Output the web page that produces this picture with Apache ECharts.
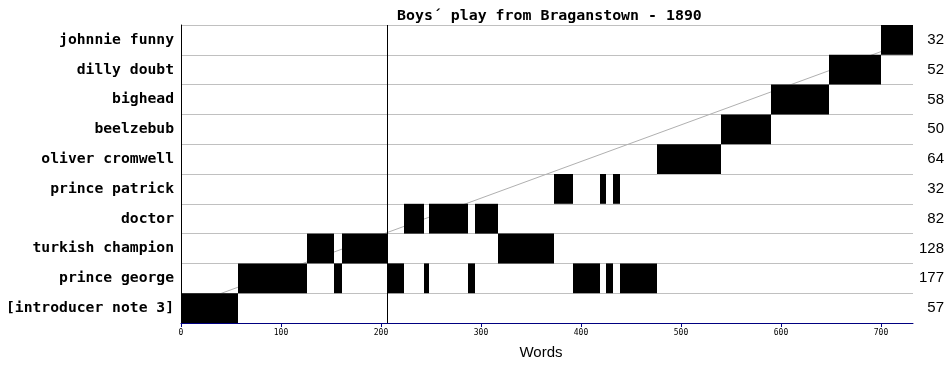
<!DOCTYPE html>
<html>
<head>
<meta charset="utf-8">
<script src="https://cdn.jsdelivr.net/npm/echarts@6/dist/echarts.min.js"></script>
<style>html,body{margin:0;padding:0;background:#fff;}#chart{width:950px;height:365px;}</style>
</head>
<body>
<div id="chart"></div>
<script>
// Characters, bottom row first
const characters = ['[introducer note 3]', 'prince george', 'turkish champion', 'doctor', 'prince patrick', 'oliver cromwell', 'beelzebub', 'bighead', 'dilly doubt', 'johnnie funny'];
// Word totals per character (same order)
const totals = [57, 177, 128, 82, 32, 64, 50, 58, 52, 32];
// Speeches in order of the play: speaker and number of words
const turnSpeaker = ['[introducer note 3]', 'prince george', 'turkish champion', 'prince george', 'turkish champion', 'prince george', 'doctor', 'prince george', 'doctor', 'prince george', 'doctor', 'turkish champion', 'prince patrick', 'prince george', 'prince patrick', 'prince george', 'prince patrick', 'prince george', 'oliver cromwell', 'beelzebub', 'bighead', 'dilly doubt', 'johnnie funny'];
const turnWords = [57, 69, 27, 8, 45, 17, 20, 5, 39, 7, 23, 56, 19, 27, 6, 7, 7, 37, 64, 50, 58, 52, 32];
// X axis ticks
const xTicks = [0, 100, 200, 300, 400, 500, 600, 700];
const totalWords = 732;
const markerWord = 206;

const segments = [];
let pos = 0;
for (let i = 0; i < turnWords.length; i++) {
  segments.push([pos, pos + turnWords[i], characters.indexOf(turnSpeaker[i])]);
  pos += turnWords[i];
}

const chart = echarts.init(document.getElementById('chart'), null, {renderer: 'canvas'});
const mono = 'DejaVu Sans Mono';
chart.setOption({
  animation: false,
  backgroundColor: '#ffffff',
  title: {
    text: 'Boys\u00b4 play from Braganstown - 1890',
    left: 392, top: 4,
    textStyle: {fontFamily: mono, fontSize: 14.9, fontWeight: 'bold', color: '#000'}
  },
  grid: {left: 181, right: 37, top: 25, bottom: 40},
  xAxis: {
    type: 'value', min: 0, max: totalWords, interval: 100,
    name: 'Words', nameLocation: 'middle', nameGap: 22,
    nameTextStyle: {fontFamily: 'Liberation Sans', fontSize: 15, color: '#000', padding: [0, 12, 0, 0]},
    axisLine: {show: true, lineStyle: {color: '#000080', width: 1}},
    axisTick: {show: true, length: 4, lineStyle: {color: '#000080'}, customValues: xTicks},
    axisLabel: {fontFamily: mono, fontSize: 8, color: '#000', margin: 6, customValues: xTicks},
    splitLine: {show: false}
  },
  yAxis: [{
    type: 'category', data: characters,
    axisLine: {show: true, lineStyle: {color: '#000', width: 1}},
    axisTick: {show: false},
    axisLabel: {fontFamily: mono, fontSize: 14.7, fontWeight: 'bold', color: '#000', margin: 7, interval: 0},
    splitLine: {show: true, interval: 0, lineStyle: {color: '#c0c0c0', width: 1}}
  }, {
    type: 'category', data: characters, position: 'right',
    axisLine: {show: false}, axisTick: {show: false}, splitLine: {show: false},
    axisLabel: {
      fontFamily: 'Liberation Sans', fontSize: 15, color: '#000', align: 'right', margin: 31, interval: 0,
      formatter: (v, i) => String(totals[i])
    }
  }],
  series: [{
    type: 'line',
    data: [[0, characters[0]], [totalWords, characters[characters.length - 1]]],
    symbol: 'none', z: 1,
    lineStyle: {color: '#b0b0b0', width: 1},
    markLine: {
      silent: true, symbol: 'none', label: {show: false},
      lineStyle: {color: '#000', width: 1, type: 'solid'},
      data: [{xAxis: markerWord}]
    }
  }, {
    type: 'custom', z: 3,
    data: segments,
    encode: {x: [0, 1], y: 2},
    renderItem: function (params, api) {
      const s = api.coord([api.value(0), api.value(2)]);
      const e = api.coord([api.value(1), api.value(2)]);
      const h = api.size([0, 1])[1];
      return {
        type: 'rect',
        shape: {x: s[0], y: s[1] - h / 2, width: e[0] - s[0], height: h},
        style: {fill: '#000'}
      };
    }
  }]
});
</script>
</body>
</html>
